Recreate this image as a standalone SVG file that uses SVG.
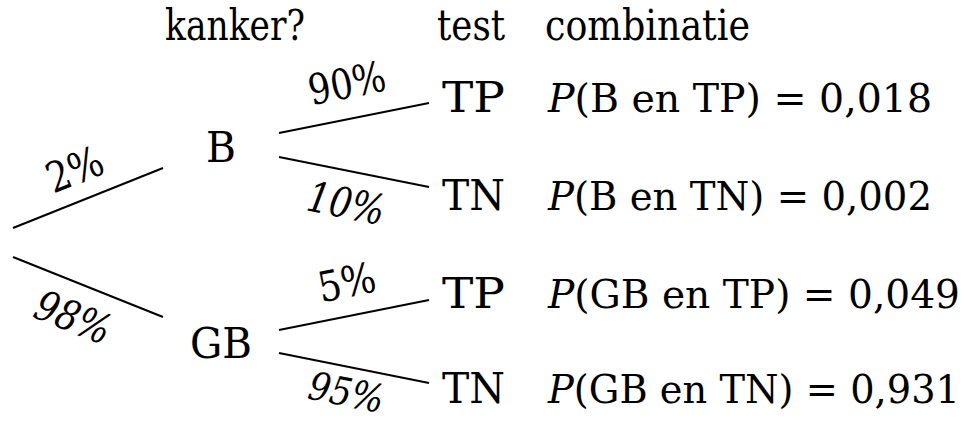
<svg xmlns="http://www.w3.org/2000/svg" width="968" height="423" viewBox="0 0 968 423">
<style>
text{font-family:'DejaVu Serif','Liberation Serif',serif;font-size:42px;fill:#000}
.c{font-size:40px}
.d{font-size:39px}
.m{text-anchor:middle}
.i{font-style:italic}
.e{stroke:#000;stroke-width:2;fill:none}
</style>
<rect width="968" height="423" fill="#fff"/>
<g id="headers">
<text x="165" y="40" textLength="140" lengthAdjust="spacingAndGlyphs">kanker?</text>
<text x="437" y="40" textLength="68" lengthAdjust="spacingAndGlyphs">test</text>
<text x="545" y="40" textLength="205" lengthAdjust="spacingAndGlyphs">combinatie</text>
</g>
<g id="connectors">
<line class="e" x1="13" y1="228" x2="163" y2="168"/>
<line class="e" x1="13" y1="257" x2="163" y2="317"/>
<line class="e" x1="279" y1="133" x2="429" y2="103"/>
<line class="e" x1="279" y1="157" x2="429" y2="187"/>
<line class="e" x1="279" y1="330" x2="429" y2="300"/>
<line class="e" x1="279" y1="353" x2="429" y2="383"/>
</g>
<g id="edge-labels">
<text class="m" transform="translate(75 170) rotate(-21.8)" y="14" textLength="58" lengthAdjust="spacingAndGlyphs">2%</text>
<text class="m i" transform="translate(73 318) rotate(21.8)" y="14" textLength="78" lengthAdjust="spacingAndGlyphs">98%</text>
<text class="m" transform="translate(347 84) rotate(-11.3)" y="14" textLength="78" lengthAdjust="spacingAndGlyphs">90%</text>
<text class="m i" transform="translate(346 204) rotate(11.3)" y="14" textLength="78" lengthAdjust="spacingAndGlyphs">10%</text>
<text class="m" transform="translate(347 283) rotate(-11.3)" y="14" textLength="58" lengthAdjust="spacingAndGlyphs">5%</text>
<text class="m i d" transform="translate(346 394) rotate(11.3)" y="12" textLength="76" lengthAdjust="spacingAndGlyphs">95%</text>
</g>
<g id="node-B"><text class="m" x="221" y="162" textLength="30" lengthAdjust="spacingAndGlyphs">B</text></g>
<g id="node-GB"><text class="m" x="221" y="358" textLength="62" lengthAdjust="spacingAndGlyphs">GB</text></g>
<g id="node-B-TP"><text x="442" y="112" textLength="63" lengthAdjust="spacingAndGlyphs">TP</text></g>
<g id="node-B-TN"><text x="442" y="210" textLength="63" lengthAdjust="spacingAndGlyphs">TN</text></g>
<g id="node-GB-TP"><text x="442" y="308" textLength="63" lengthAdjust="spacingAndGlyphs">TP</text></g>
<g id="node-GB-TN"><text x="442" y="403" textLength="63" lengthAdjust="spacingAndGlyphs">TN</text></g>
<g id="comb-1"><text class="c" x="548" y="112" textLength="384" lengthAdjust="spacingAndGlyphs"><tspan class="i">P</tspan>(B en TP) = 0,018</text></g>
<g id="comb-2"><text class="c" x="548" y="210" textLength="384" lengthAdjust="spacingAndGlyphs"><tspan class="i">P</tspan>(B en TN) = 0,002</text></g>
<g id="comb-3"><text class="c" x="548" y="308" textLength="412" lengthAdjust="spacingAndGlyphs"><tspan class="i">P</tspan>(GB en TP) = 0,049</text></g>
<g id="comb-4"><text class="d" x="548" y="403" textLength="412" lengthAdjust="spacingAndGlyphs"><tspan class="i">P</tspan>(GB en TN) = 0,931</text></g>
</svg>
